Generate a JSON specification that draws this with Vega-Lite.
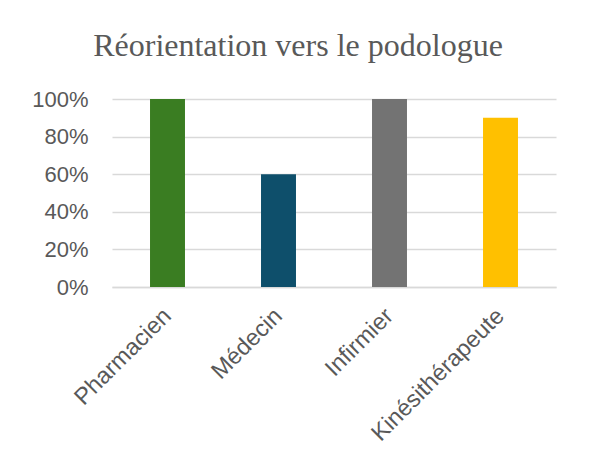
{
  "$schema": "https://vega.github.io/schema/vega-lite/v6.json",
  "width": 444,
  "height": 188,
  "autosize": "none",
  "padding": {"left": 112, "top": 99, "right": 34, "bottom": 172},
  "background": "white",
  "title": {
    "text": "Réorientation vers le podologue",
    "font": "Liberation Serif",
    "fontSize": 32,
    "fontWeight": "normal",
    "color": "#595959",
    "anchor": "middle",
    "baseline": "alphabetic",
    "offset": 0,
    "dx": -36
  },
  "data": {
    "values": [
      {"profession": "Pharmacien", "taux": 1.0},
      {"profession": "Médecin", "taux": 0.6},
      {"profession": "Infirmier", "taux": 1.0},
      {"profession": "Kinésithérapeute", "taux": 0.9}
    ]
  },
  "mark": {"type": "bar"},
  "encoding": {
    "x": {
      "field": "profession",
      "type": "nominal",
      "sort": null,
      "scale": {"paddingInner": 0.685, "paddingOuter": 0.3425},
      "axis": {
        "title": null,
        "labelAngle": -45,
        "labelAlign": "right",
        "labelBaseline": "middle",
        "labelFont": "Liberation Sans",
        "labelFontSize": 23.5,
        "labelColor": "#595959",
        "labelPadding": 25,
        "ticks": false,
        "domainColor": "#d9d9d9",
        "domainWidth": 1.5
      }
    },
    "y": {
      "field": "taux",
      "type": "quantitative",
      "scale": {"domain": [0, 1]},
      "axis": {
        "title": null,
        "format": ".0%",
        "values": [0, 0.2, 0.4, 0.6, 0.8, 1.0],
        "labelFont": "Liberation Sans",
        "labelFontSize": 22,
        "labelColor": "#595959",
        "labelPadding": 24,
        "ticks": false,
        "domain": false,
        "gridColor": "#d9d9d9",
        "gridWidth": 1.5
      }
    },
    "color": {
      "field": "profession",
      "type": "nominal",
      "scale": {
        "domain": ["Pharmacien", "Médecin", "Infirmier", "Kinésithérapeute"],
        "range": ["#3a7d22", "#0e4f6b", "#737373", "#ffc000"]
      },
      "legend": null
    }
  },
  "config": {"view": {"stroke": null}}
}
